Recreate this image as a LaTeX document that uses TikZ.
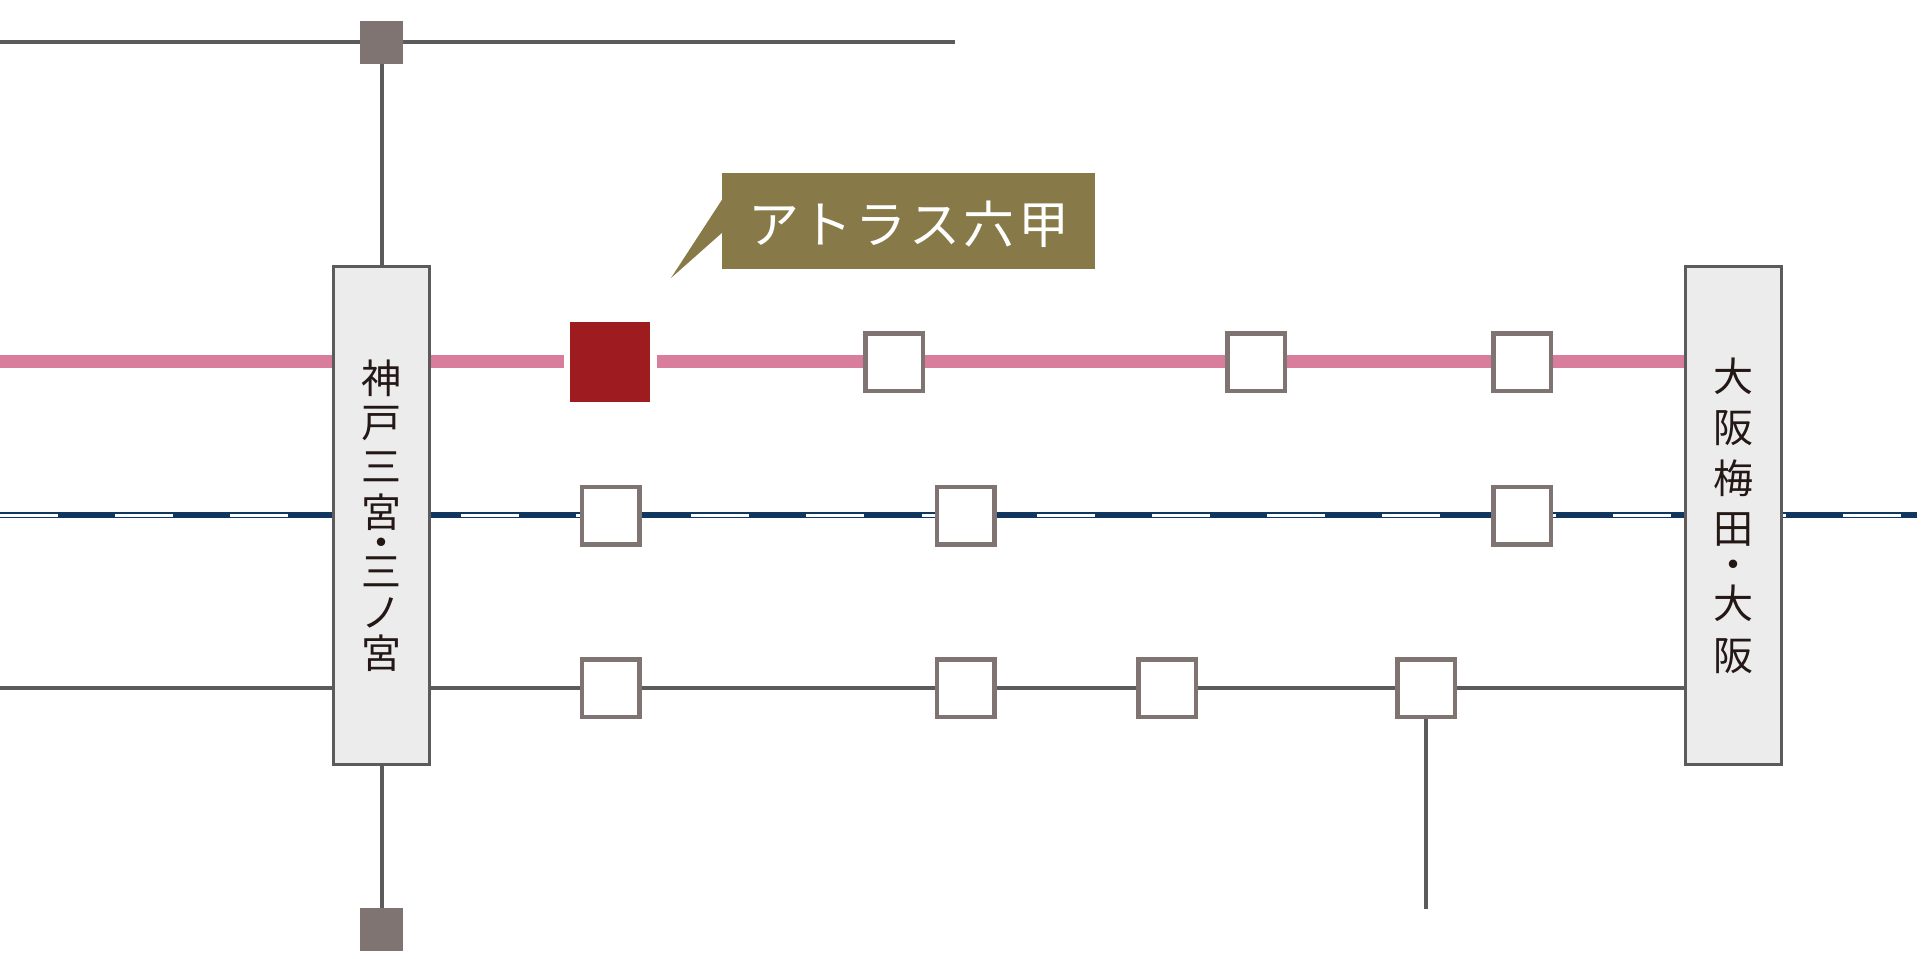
\documentclass[tikz,border=0pt]{standalone}
\usepackage{fontspec}
\newfontfamily\cjk{Noto Sans CJK JP}
\usetikzlibrary{backgrounds}
\definecolor{graybox}{HTML}{7F7472}
\definecolor{lineg}{HTML}{5C5A5A}
\definecolor{pinkl}{HTML}{D97D9C}
\definecolor{navyl}{HTML}{12375F}
\definecolor{oliveb}{HTML}{877A48}
\definecolor{redb}{HTML}{9E1B20}
\definecolor{inkc}{HTML}{231815}
\tikzset{
  stopbox/.style={draw=graybox,line width=4.5pt,fill=white,minimum width=57.5pt,minimum height=57.5pt,inner sep=0pt},
  endsq/.style={fill=graybox,minimum width=43pt,minimum height=43pt,inner sep=0pt},
  hub/.style={draw=lineg,line width=3pt,fill=black!7.5,minimum width=96pt,minimum height=498pt,inner sep=0pt,align=center,text=inkc},
  thinl/.style={draw=lineg,line width=4pt},
  pinkline/.style={draw=pinkl,line width=13pt},
  navyline/.style={draw=navyl,line width=6pt},
  dashline/.style={draw=white,line width=3pt,dash pattern=on 58pt off 57.2pt}
}
\begin{document}
\begin{tikzpicture}[x=1pt,y=-1pt]
\useasboundingbox (0,0) rectangle (1924,958);
% hubs
\node[hub,font={\cjk\fontsize{40}{44}\selectfont}] (kobe) at (381.5,515.5)
  {神\\戸\\三\\[2pt]宮\\[-14pt]・\\[-15pt]三\\[-3pt]ノ\\[-3pt]宮};
\node[hub,font={\cjk\fontsize{40}{51}\selectfont}] (osaka) at (1733.5,515.5)
  {大\\阪\\梅\\[-1pt]田\\[-14.5pt]・\\[-12.5pt]大\\[1pt]阪};
% terminals
\node[endsq] (topsq) at (381.5,42.5) {};
\node[endsq] (botsq) at (381.5,929.5) {};
% red station
\node[fill=redb,minimum width=80pt,minimum height=80pt,inner sep=0pt] (rokko) at (610,362) {};
% stops
\node[stopbox] (p1) at (894,362) {};
\node[stopbox] (p2) at (1256,362) {};
\node[stopbox] (p3) at (1522,362) {};
\node[stopbox] (n1) at (610.5,515.5) {};
\node[stopbox] (n2) at (965.5,515.5) {};
\node[stopbox] (n3) at (1522,515.5) {};
\node[stopbox] (g1) at (610.5,688) {};
\node[stopbox] (g2) at (965.5,688) {};
\node[stopbox] (g3) at (1167,688) {};
\node[stopbox] (g4) at (1426,688) {};
% free ends
\coordinate (topL) at (0,42);
\coordinate (topR) at (955,42);
\coordinate (pinkL) at (0,361.5);
\coordinate (gapL) at (564,361.5);
\coordinate (gapR) at (657,361.5);
\coordinate (navyL) at (0,515);
\coordinate (navyR) at (1917,515);
\coordinate (dashL) at (0,515.5);
\coordinate (dashR) at (1917,515.5);
\coordinate (grayL) at (0,688);
\coordinate (branchEnd) at (1426,909);
\begin{scope}[on background layer]
  \draw[thinl] (topL) -- (topR);
  \draw[thinl] (topsq) -- (kobe);
  \draw[thinl] (kobe) -- (botsq);
  \draw[pinkline] (pinkL) -- (gapL);
  \draw[pinkline] (gapR) -- (osaka.west |- gapR);
  \draw[navyline] (navyL) -- (navyR);
  \draw[dashline] (dashL) -- (dashR);
  \draw[thinl] (grayL) -- (osaka.west |- grayL);
  \draw[thinl] (g4) -- (branchEnd);
\end{scope}
% callout
\node[fill=oliveb,minimum width=373pt,minimum height=96pt,inner sep=0pt] (callout) at (908.5,221) {};
\coordinate (tailTip) at (671,278);
\fill[oliveb] (callout.west |- 0,200) -- (tailTip) -- (callout.west |- 0,233) -- cycle;
\node[text=white,inner sep=0pt,font={\cjk\fontsize{51}{51}\selectfont},anchor=center] (calloutlabel) at (908.5,224)
  {ア\kern3ptト\kern3ptラ\kern3ptス\kern3pt六\kern3pt甲};
\end{tikzpicture}
\end{document}
